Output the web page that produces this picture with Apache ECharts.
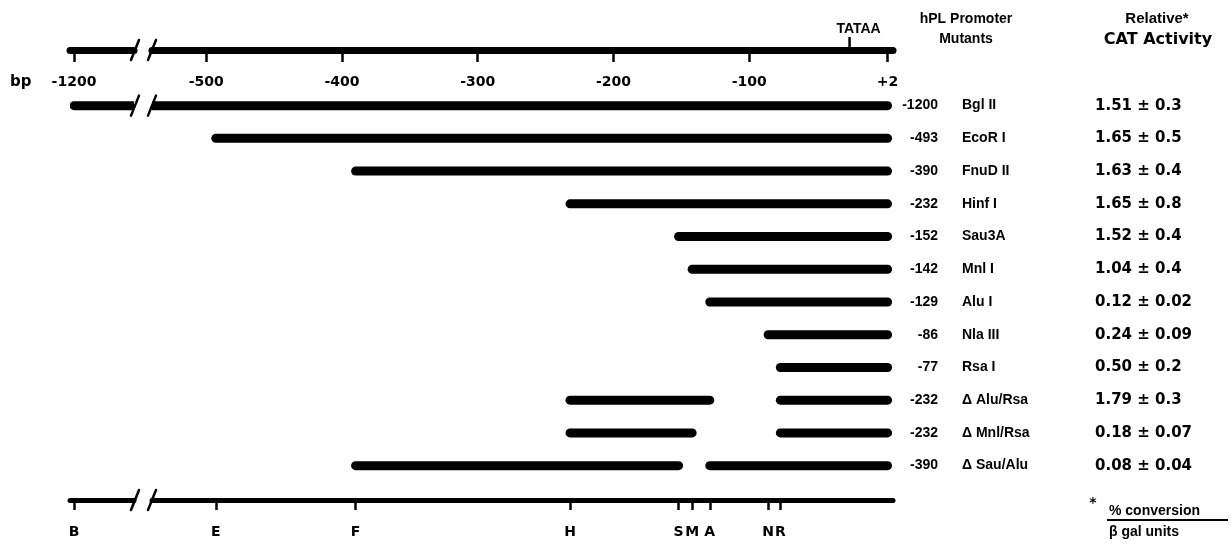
<!DOCTYPE html>
<html><head><meta charset="utf-8">
<script src="https://cdn.jsdelivr.net/npm/echarts@6/dist/echarts.min.js"></script>
<style>html,body{margin:0;padding:0;background:#fff}#c{width:1232px;height:546px}</style>
</head><body><div id="c"></div><script>
// ---- data ----
const mutantNames = ['Bgl II','EcoR I','FnuD II','Hinf I','Sau3A','Mnl I','Alu I','Nla III','Rsa I','\u0394 Alu/Rsa','\u0394 Mnl/Rsa','\u0394 Sau/Alu'];
const mutantEnd5 = [-1200,-493,-390,-232,-152,-142,-129,-86,-77,-232,-232,-390];
const activityMean = [1.51,1.65,1.63,1.65,1.52,1.04,0.12,0.24,0.50,1.79,0.18,0.08];
const activitySE = [0.3,0.5,0.4,0.8,0.4,0.4,0.02,0.09,0.2,0.3,0.07,0.04];
// promoter fragments retained in each mutant (row index, 5' start, 3' end)
const segRow   = [0,1,2,3,4,5,6,7,8,9,9,10,10,11,11];
const segStart = [-1200,-493,-390,-232,-152,-142,-129,-86,-77,-232,-77,-232,-77,-390,-129];
const segEnd   = [2,2,2,2,2,2,2,2,2,-129,2,-142,2,-152,2];
// scale ticks
const leftTopTicks = [-1200];
const topTicks = [-500,-400,-300,-200,-100,2];
// restriction site map
const siteLabels = ['B','E','F','H','S','M','A','N','R'];
const sitePos = [-1200,-493,-390,-232,-152,-142,-129,-86,-77];
const tataPos = -26;
const brokenRows = [0];

// ---- style / layout ----
const INK = '#000';
const Y_MIN = -1.7, Y_MAX = 12.05;
const F_AX = '"DejaVu Sans", sans-serif';
const F_TAB = '"Liberation Sans", Arial, sans-serif';

const chart = echarts.init(document.getElementById('c'), null, {renderer:'canvas'});

function topAxis(gi, min, max, ticks) {
  return {type:'value', gridIndex:gi, position:'top', min, max,
    axisLine:{show:true, onZero:false, lineStyle:{color:INK, width:7}},
    axisTick:{show:true, inside:true, length:12, customValues:ticks, lineStyle:{color:INK, width:2.5}},
    axisLabel:{show:true, inside:true, margin:25, customValues:ticks,
      formatter:v => v > 0 ? '+' + v : String(v),
      color:INK, fontFamily:F_AX, fontWeight:'bold', fontSize:14},
    splitLine:{show:false}};
}
function bottomAxis(gi, min, max) {
  const inRange = sitePos.filter(v => v >= min && v <= max);
  return {type:'value', gridIndex:gi, position:'bottom', min, max,
    axisLine:{show:true, onZero:false, lineStyle:{color:INK, width:5}},
    axisTick:{show:true, inside:false, length:10, customValues:inRange, lineStyle:{color:INK, width:2.5}},
    axisLabel:{show:true, margin:25, customValues:inRange,
      formatter:v => siteLabels[sitePos.indexOf(v)],
      color:INK, fontFamily:F_AX, fontWeight:'bold', fontSize:14},
    splitLine:{show:false}};
}
const yAx = gi => ({type:'value', gridIndex:gi, min:Y_MIN, max:Y_MAX, inverse:true, show:false});

const L0 = {min:-1203, max:-1155};
const L1 = {min:-540, max:6};

const segData = segRow.map((r,i) => [segStart[i], segEnd[i], r]);

function barItem(params, api) {
  const a = api.coord([api.value(0), api.value(2)]);
  const b = api.coord([api.value(1), api.value(2)]);
  return {type:'line', shape:{x1:a[0], y1:a[1], x2:b[0], y2:b[1]},
    style:{stroke:INK, lineWidth:9, lineCap:'round'}};
}
function breakItem(side) {
  return function(params, api) {
    const cs = params.coordSys;
    const y = api.coord([0, api.value(1)])[1];
    const x = side === 'right' ? cs.x + cs.width + 1 : cs.x;
    return {type:'line', shape:{x1:x-4, y1:y+10, x2:x+4, y2:y-10},
      style:{stroke:INK, lineWidth:2.5, lineCap:'round'}};
  };
}
const breakData = [Y_MIN, ...brokenRows, Y_MAX].map(v => [0, v]);

function tableItem(params, api) {
  const cs = params.coordSys;
  const i = params.dataIndex;
  const y = api.coord([0, api.value(0)])[1];
  const x0 = cs.x + cs.width - 5;
  return {type:'group', children:[
    {type:'text', style:{text:String(mutantEnd5[i]), x:x0+50, y:y, align:'right', verticalAlign:'middle',
      font:'bold 14px ' + F_TAB, fill:INK}},
    {type:'text', style:{text:mutantNames[i], x:x0+74, y:y, align:'left', verticalAlign:'middle',
      font:'bold 14px ' + F_TAB, fill:INK}},
    {type:'text', style:{text:activityMean[i].toFixed(2) + ' \u00b1 ' + activitySE[i], x:x0+207, y:y,
      align:'left', verticalAlign:'middle', font:'bold 15px ' + F_AX, fill:INK}}
  ]};
}
function tataItem(params, api) {
  const p = api.coord([api.value(0), Y_MIN]);
  return {type:'group', children:[
    {type:'line', shape:{x1:p[0], y1:p[1]-3, x2:p[0], y2:p[1]-13}, style:{stroke:INK, lineWidth:2.5}},
    {type:'text', style:{text:'TATAA', x:p[0]+9, y:p[1]-14, align:'center', verticalAlign:'bottom',
      font:'bold 14px ' + F_TAB, fill:INK}}
  ]};
}

const option = {
  backgroundColor:'#fff',
  animation:false,
  grid:[
    {left:70, width:64, top:50, height:450},
    {left:152, width:741, top:50, height:450}
  ],
  xAxis:[
    topAxis(0, L0.min, L0.max, leftTopTicks),
    topAxis(1, L1.min, L1.max, topTicks),
    bottomAxis(0, L0.min, L0.max),
    bottomAxis(1, L1.min, L1.max)
  ],
  yAxis:[yAx(0), yAx(1)],
  series:[
    {type:'custom', name:'fragments-left', xAxisIndex:0, yAxisIndex:0, clip:true, data:segData,
      encode:{x:[0,1], y:2}, renderItem:barItem, silent:true},
    {type:'custom', name:'fragments', xAxisIndex:1, yAxisIndex:1, clip:true, data:segData,
      encode:{x:[0,1], y:2}, renderItem:barItem, silent:true},
    {type:'custom', name:'break-left', xAxisIndex:0, yAxisIndex:0, clip:false, data:breakData,
      encode:{x:0, y:1}, renderItem:breakItem('right'), silent:true, z:5},
    {type:'custom', name:'break-right', xAxisIndex:1, yAxisIndex:1, clip:false, data:breakData,
      encode:{x:0, y:1}, renderItem:breakItem('left'), silent:true, z:5},
    {type:'custom', name:'table', xAxisIndex:1, yAxisIndex:1, clip:false,
      data:mutantNames.map((n,i) => [i]), encode:{y:0}, renderItem:tableItem, silent:true},
    {type:'custom', name:'tata', xAxisIndex:1, yAxisIndex:1, clip:false,
      data:[[tataPos]], encode:{x:0}, renderItem:tataItem, silent:true}
  ],
  graphic:[
    {type:'text', left:10, top:75, style:{text:'bp', font:'bold 15px ' + F_AX, fill:INK}},
    {type:'text', x:966, y:19, style:{text:'hPL Promoter', align:'center', verticalAlign:'middle', font:'bold 14px ' + F_TAB, fill:INK}},
    {type:'text', x:966, y:39, style:{text:'Mutants', align:'center', verticalAlign:'middle', font:'bold 14px ' + F_TAB, fill:INK}},
    {type:'text', x:1157, y:19, style:{text:'Relative*', align:'center', verticalAlign:'middle', font:'bold 15px ' + F_TAB, fill:INK}},
    {type:'text', x:1158, y:40, style:{text:'CAT Activity', align:'center', verticalAlign:'middle', font:'bold 16px ' + F_AX, fill:INK}},
    {type:'text', x:1093, y:503, style:{text:'*', align:'center', verticalAlign:'middle', font:'bold 14px ' + F_AX, fill:INK}},
    {type:'text', x:1109, y:511, style:{text:'% conversion', align:'left', verticalAlign:'middle', font:'bold 14px ' + F_TAB, fill:INK}},
    {type:'line', shape:{x1:1107, y1:520, x2:1228, y2:520}, style:{stroke:INK, lineWidth:2}},
    {type:'text', x:1109, y:532, style:{text:'\u03b2 gal units', align:'left', verticalAlign:'middle', font:'bold 14px ' + F_TAB, fill:INK}}
  ]
};
chart.setOption(option);
</script></body></html>
